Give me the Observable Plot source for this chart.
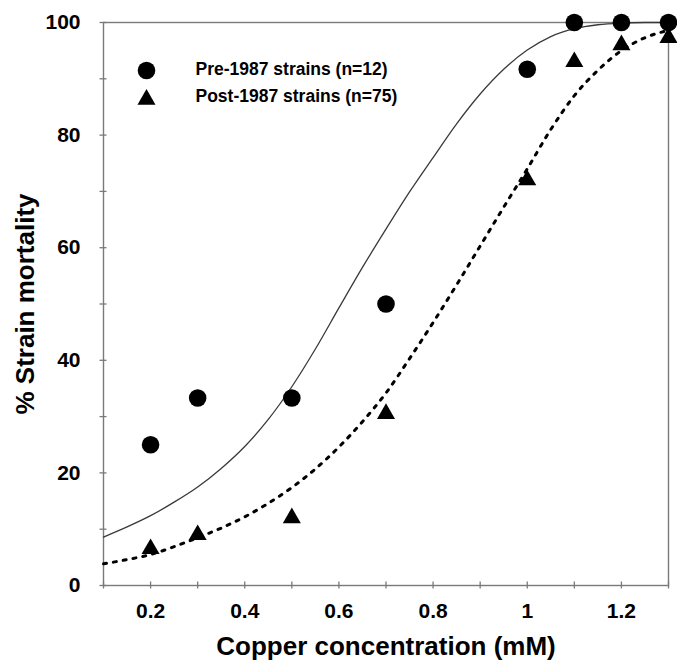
<!DOCTYPE html>
<html>
<head>
<meta charset="utf-8">
<script src="https://cdn.jsdelivr.net/npm/d3@7"></script>
<script src="https://cdn.jsdelivr.net/npm/@observablehq/plot@0.6"></script>
<style>
  body { margin: 0; background: #fff; }
  #chart svg { font-family: "Liberation Sans", Arial, Helvetica, sans-serif; background: #fff; }
</style>
</head>
<body>
<div id="chart"></div>
<script>
// Observed data points
const concentrations = [0.2, 0.3, 0.5, 0.7, 1.0, 1.1, 1.2, 1.3];
const pre1987 = [25, 33.3, 33.3, 50, 91.7, 100, 100, 100];
const post1987 = [6.5, 9, 12, 30.5, 72, 93, 96, 97.3];

// Fitted curves
const fitX = [0.1, 0.15, 0.2, 0.25, 0.3, 0.35, 0.4, 0.45, 0.5, 0.55, 0.6, 0.65, 0.7,
              0.75, 0.8, 0.85, 0.9, 0.95, 1.0, 1.05, 1.1, 1.15, 1.2, 1.25, 1.3];
const preFit = [8.6, 10.4, 12.4, 14.8, 17.5, 20.8, 24.7, 29.5, 35.3, 42.0, 49.3, 56.5, 63.3,
                69.9, 76.0, 82.0, 87.3, 91.7, 95.1, 97.5, 98.9, 99.6, 99.9, 100, 100];
const postFit = [3.85, 4.6, 5.5, 6.9, 8.5, 10.2, 12.2, 14.6, 17.4, 20.7, 24.6, 29.1, 34.2,
                 40.3, 46.7, 53.4, 60.3, 67.2, 74.0, 81.0, 87.0, 91.5, 95.0, 97.3, 98.6];

// Ticks and labels
const xMinorTicks = [0.1, 0.2, 0.3, 0.4, 0.5, 0.6, 0.7, 0.8, 0.9, 1.0, 1.1, 1.2, 1.3];
const xLabelTicks = [0.2, 0.4, 0.6, 0.8, 1.0, 1.2];
const yMinorTicks = [0, 10, 20, 30, 40, 50, 60, 70, 80, 90, 100];
const yLabelTicks = [0, 20, 40, 60, 80, 100];
const legendLabels = ["Pre-1987 strains (n=12)", "Post-1987 strains (n=75)"];
const xTitle = "Copper concentration (mM)";
const yTitle = "% Strain mortality";

const prePoints = concentrations.map((c, i) => ({x: c, y: pre1987[i]}));
const postPoints = concentrations.map((c, i) => ({x: c, y: post1987[i]}));
const preCurve = fitX.map((c, i) => ({x: c, y: preFit[i]}));
const postCurve = fitX.map((c, i) => ({x: c, y: postFit[i]}));

const frameColor = "#7a7a7a";
const fmt = d => String(+d.toFixed(1));

const chart = Plot.plot({
  width: 677,
  height: 666,
  marginLeft: 103,
  marginRight: 9,
  marginTop: 22,
  marginBottom: 81,
  x: {domain: [0.1, 1.3]},
  y: {domain: [0, 100]},
  marks: [
    Plot.frame({stroke: frameColor, strokeWidth: 1.4}),
    // minor (crossing) ticks
    Plot.axisY({ticks: yMinorTicks, tickSize: 7, dx: 3.5, tickFormat: () => "", label: null, stroke: frameColor, strokeWidth: 1.3}),
    Plot.axisX({ticks: xMinorTicks, tickSize: 7, dy: -3.5, tickFormat: () => "", label: null, stroke: frameColor, strokeWidth: 1.3}),
    // tick labels
    Plot.axisY({ticks: yLabelTicks, tickSize: 0, tickPadding: 23, tickFormat: fmt, label: null, fontSize: 21, fontWeight: "bold", fill: "black"}),
    Plot.axisX({ticks: xLabelTicks, tickSize: 0, tickPadding: 18, tickFormat: fmt, label: null, fontSize: 21, fontWeight: "bold", fill: "black"}),
    // fitted curves
    Plot.line(preCurve, {x: "x", y: "y", curve: "monotone-x", stroke: "#3a3a3a", strokeWidth: 1.3}),
    Plot.line(postCurve, {x: "x", y: "y", curve: "monotone-x", stroke: "black", strokeWidth: 3, strokeDasharray: "3,7"}),
    // data points
    Plot.dot(prePoints, {x: "x", y: "y", r: 8.8, fill: "black", symbol: "circle"}),
    Plot.dot(postPoints, {x: "x", y: "y", r: 6.7, fill: "black", symbol: "triangle"}),
    // legend
    Plot.dot([legendLabels[0]], {frameAnchor: "top-left", dx: 43, dy: 48, r: 8.8, fill: "black", symbol: "circle"}),
    Plot.dot([legendLabels[1]], {frameAnchor: "top-left", dx: 43, dy: 77, r: 6.7, fill: "black", symbol: "triangle"}),
    Plot.text([legendLabels[0]], {text: d => d, frameAnchor: "top-left", dx: 92, dy: 47, textAnchor: "start", lineAnchor: "middle", fontSize: 17.5, fontWeight: "bold", fill: "black"}),
    Plot.text([legendLabels[1]], {text: d => d, frameAnchor: "top-left", dx: 92, dy: 74, textAnchor: "start", lineAnchor: "middle", fontSize: 17.5, fontWeight: "bold", fill: "black"}),
    // axis titles
    Plot.text([xTitle], {text: d => d, frameAnchor: "bottom", dy: 61, textAnchor: "middle", lineAnchor: "middle", fontSize: 26, fontWeight: "bold", fill: "black"}),
    Plot.text([yTitle], {text: d => d, frameAnchor: "left", dx: -78, rotate: -90, textAnchor: "middle", lineAnchor: "middle", fontSize: 26, fontWeight: "bold", fill: "black"})
  ]
});
document.getElementById("chart").append(chart);
</script>
</body>
</html>
